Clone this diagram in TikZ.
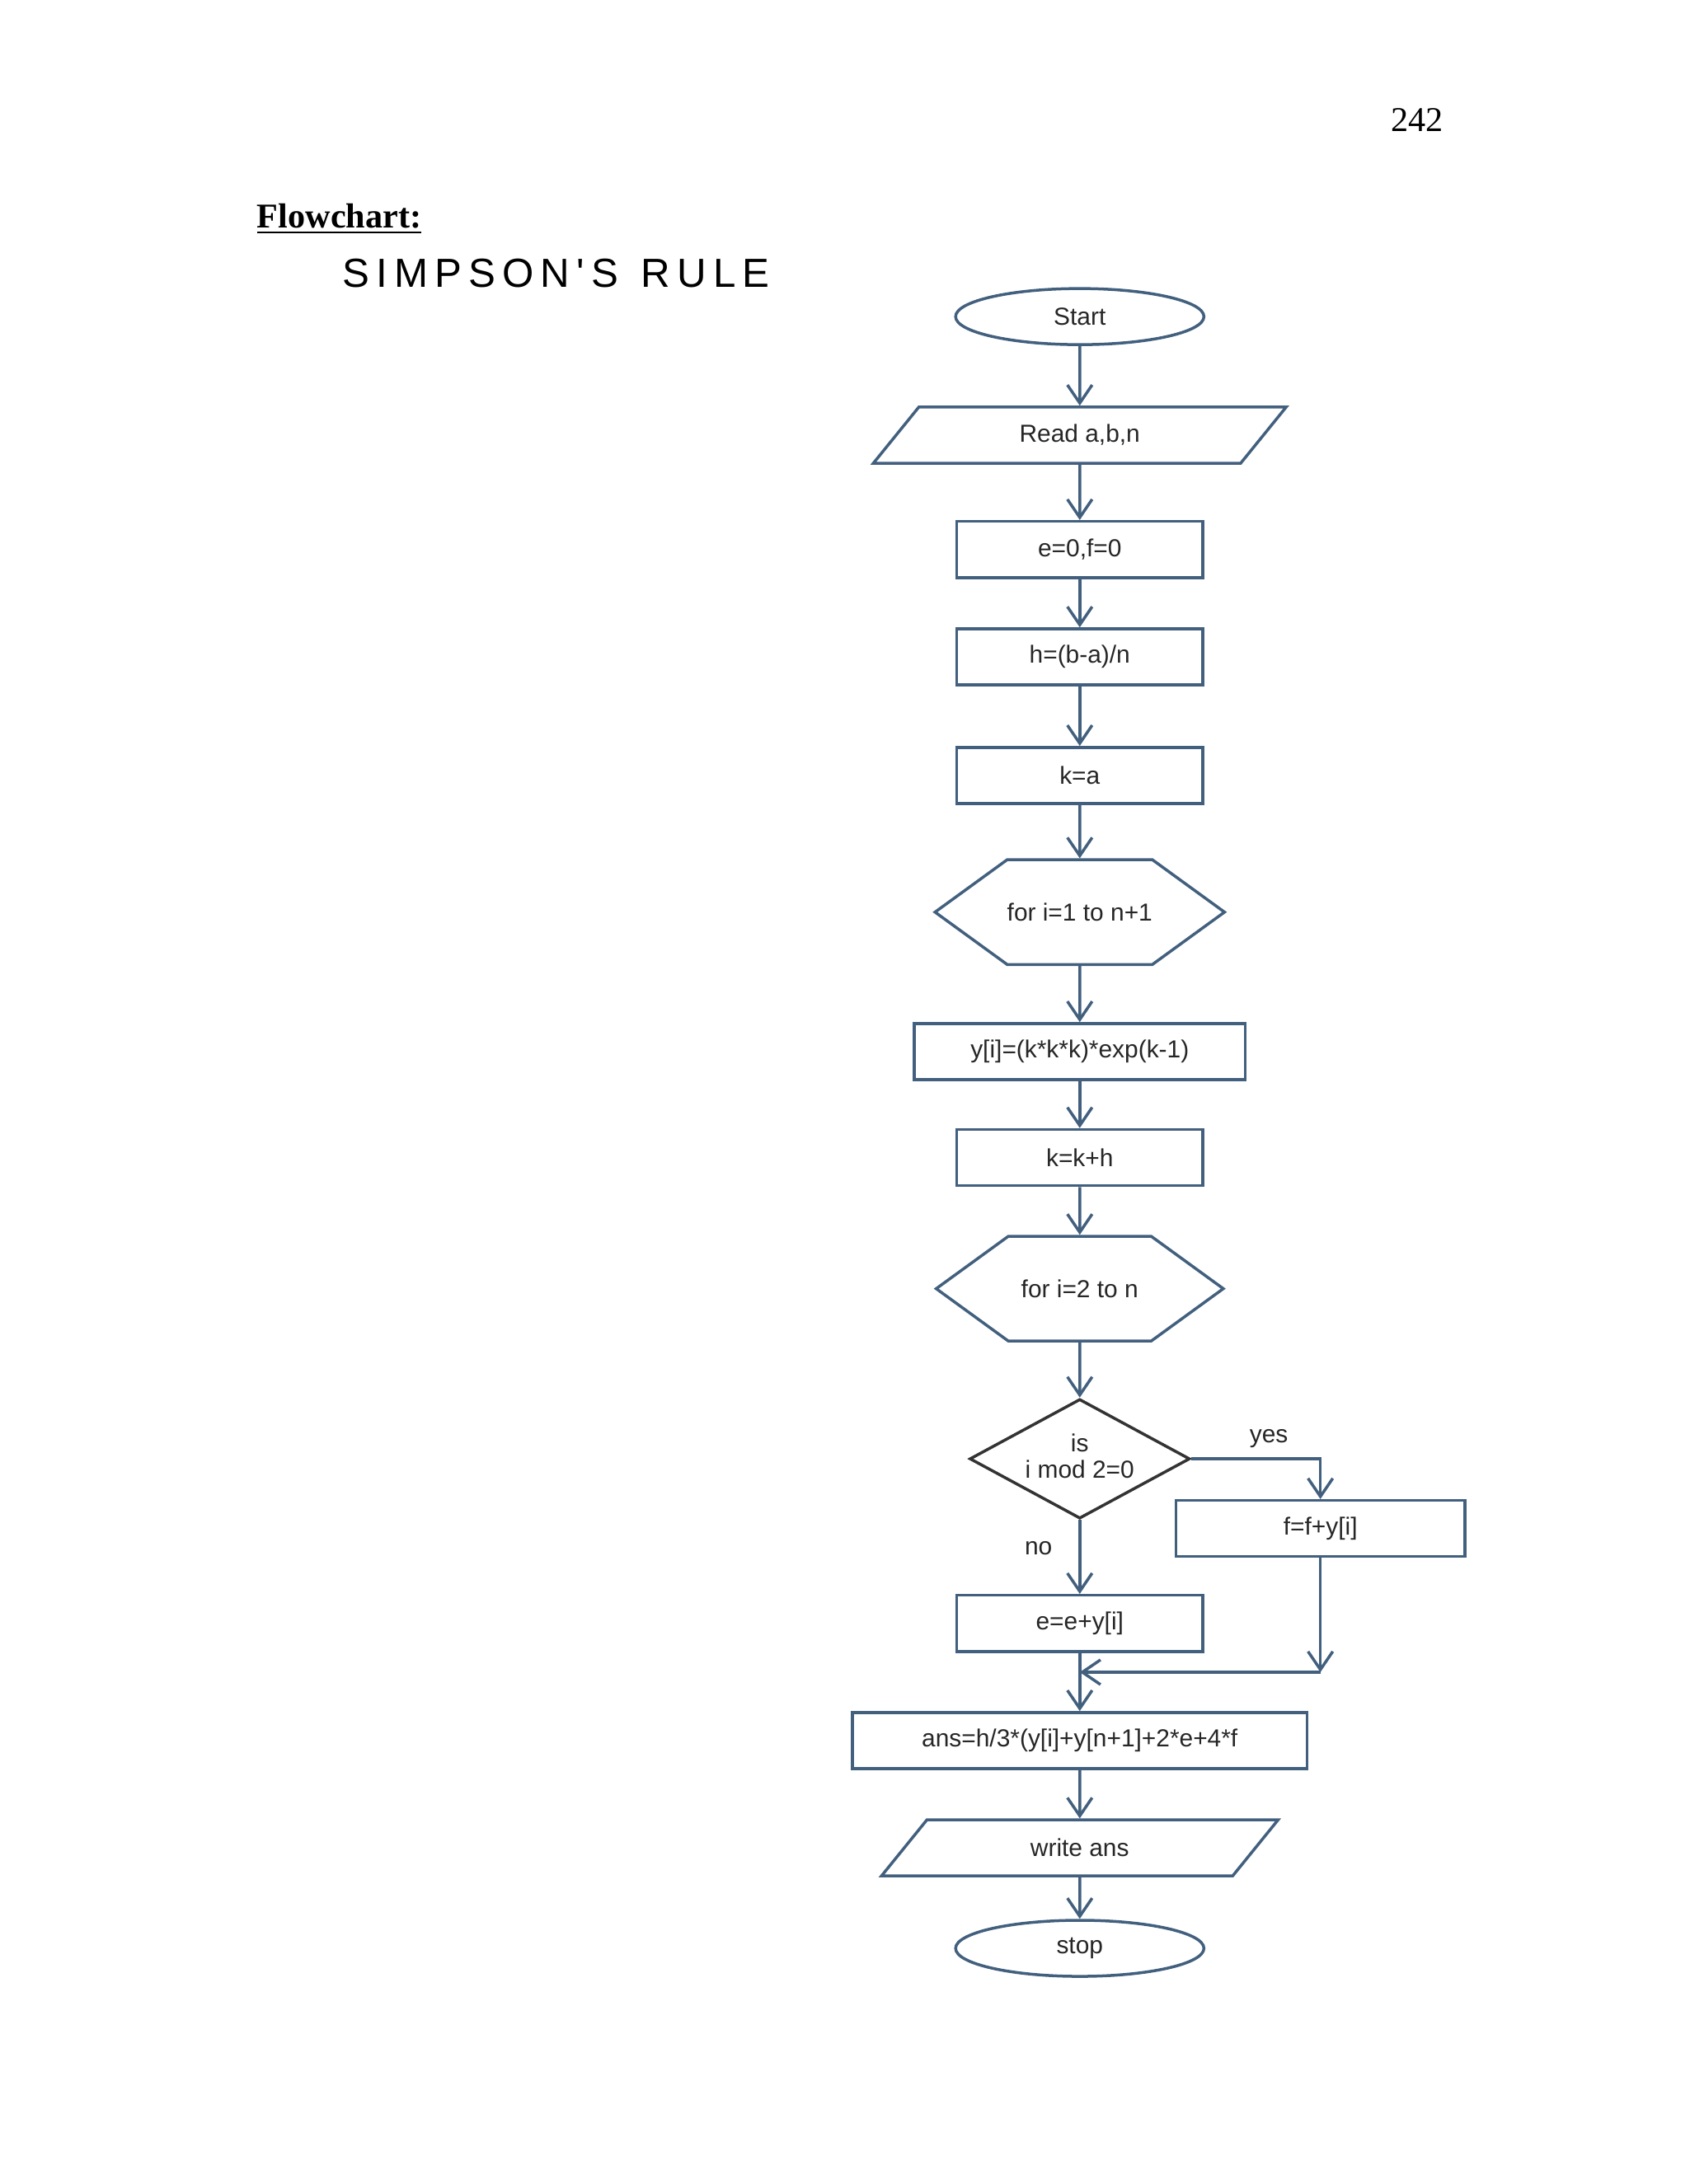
\documentclass[tikz,border=0pt]{standalone}
\usepackage{fontspec}
\setmainfont{Liberation Serif}
\newfontfamily\flowfont{Liberation Sans}
\usetikzlibrary{shapes.geometric, shapes.symbols, arrows.meta}
\begin{document}
\begin{tikzpicture}[x=0.1691mm, y=-0.1691mm,
  base/.style={draw=lc, line width=0.35mm, font=\flowfont\fontsize{8.5}{10}\selectfont, text=black!85, inner sep=0pt},
  box/.style={base, rectangle, minimum height=6.8mm},
  term/.style={base, ellipse, minimum width=30.1mm, minimum height=6.8mm},
  io/.style={base, trapezium, trapezium left angle=51, trapezium right angle=129, minimum width=33.5mm, minimum height=6.8mm},
  loop/.style={base, signal, signal to=east and west, signal pointer angle=72, minimum width=34.8mm, minimum height=12.7mm},
  dec/.style={base, diamond, draw=black!80, minimum width=26.7mm, minimum height=14.5mm, aspect=1.8},
  arrow/.style={draw=lc, line width=0.35mm, -{Straight Barb[length=2.2mm, width=3mm]}},
  lbl/.style={font=\flowfont\fontsize{8.5}{10}\selectfont, text=black!85}]
\definecolor{lc}{HTML}{42607E}
\useasboundingbox (0,0) rectangle (1211,1566);
\node (page) at (1016,86) {\fontsize{12}{14}\selectfont 242};
\node[anchor=west] (head) at (177,157) {\fontsize{12}{14}\selectfont\bfseries\underline{Flowchart:}};
\node[anchor=west] (title) at (238,196) {\flowfont\fontsize{14}{16}\selectfont S\,I\,M\,P\,S\,O\,N\,'\,S\ \ R\,U\,L\,E};

\node[term] (start) at (774,227) {Start};
\node[io] (read) at (774,312) {Read a,b,n};
\node[box, minimum width=29.8mm] (init) at (774,394) {e=0,f=0};
\node[box, minimum width=29.8mm] (step) at (774,471) {h=(b-a)/n};
\node[box, minimum width=29.8mm] (ka) at (774,556) {k=a};
\node[loop] (loop1) at (774,654) {for i=1 to n+1};
\node[box, minimum width=40.1mm] (yi) at (774,754) {y[i]=(k*k*k)*exp(k-1)};
\node[box, minimum width=29.8mm] (kh) at (774,830) {k=k+h};
\node[loop] (loop2) at (774,924) {for i=2 to n};
\node[dec] (test) at (774,1046) {};
\node[lbl] (testtxt) at (774,1044) {\shortstack{is\\i mod 2=0}};
\node[box, minimum width=35mm] (ff) at (946.5,1096) {f=f+y[i]};
\node[box, minimum width=29.8mm] (ee) at (774,1164) {e=e+y[i]};
\node[box, minimum width=55.1mm] (ans) at (774,1248) {ans=h/3*(y[i]+y[n+1]+2*e+4*f};
\node[io] (write) at (774,1325) {write ans};
\node[term] (stop) at (774,1397) {stop};
\coordinate (mr) at (946.5,1199);
\coordinate (ml) at (774,1199);

\draw[arrow] (start) -- (read);
\draw[arrow] (read) -- (init);
\draw[arrow] (init) -- (step);
\draw[arrow] (step) -- (ka);
\draw[arrow] (ka) -- (loop1);
\draw[arrow] (loop1) -- (yi);
\draw[arrow] (yi) -- (kh);
\draw[arrow] (kh) -- (loop2);
\draw[arrow] (loop2) -- (test.north);
\draw[arrow] (test.east) -| node[lbl, pos=0.3, above] {yes} (ff.north);
\draw[arrow] (test.south) -- node[lbl, pos=0.38, left=2mm] {no} (ee.north);
\draw[arrow] (ff.south) -- (mr);
\draw[arrow] (mr) -- (ml);
\draw[line width=0.35mm, draw=lc] (ee.south) -- (ml);
\draw[arrow] (ml) -- (ans);
\draw[arrow] (ans) -- (write);
\draw[arrow] (write) -- (stop);
\end{tikzpicture}
\end{document}
